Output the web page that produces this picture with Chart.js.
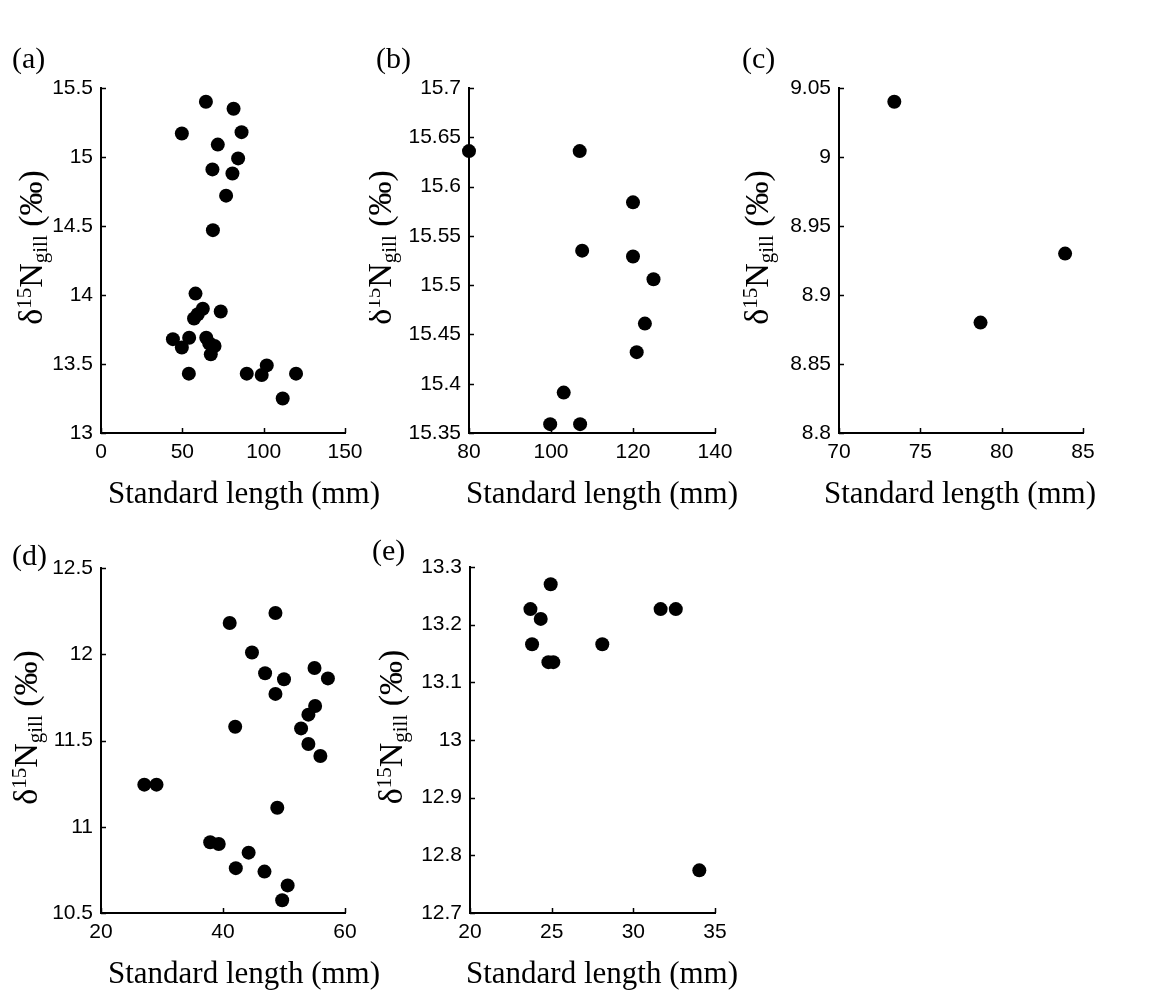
<!DOCTYPE html>
<html><head><meta charset="utf-8">
<script src="https://cdn.jsdelivr.net/npm/chart.js@4.4.0/dist/chart.umd.min.js"></script>
<style>
html,body{margin:0;padding:0;background:#fff;width:1158px;height:992px;overflow:hidden;position:relative}
canvas{position:absolute}
</style></head><body>
<canvas id="pa"></canvas><canvas id="pb"></canvas><canvas id="pc"></canvas><canvas id="pd"></canvas><canvas id="pe"></canvas>
<script>
// ---- data ----
const lengthA = [64.5,81.5,49.7,86.4,71.8,84.3,68.5,80.8,76.9,68.8,58.1,62.6,59.5,57.2,73.6,44.2,49.7,54.2,64.7,66.5,69.8,67.5,54.0,89.6,98.8,101.9,119.9,111.7];
const d15nA   = [15.40,15.35,15.17,15.18,15.09,14.99,14.91,14.88,14.72,14.47,14.01,13.90,13.86,13.83,13.88,13.68,13.62,13.69,13.69,13.65,13.63,13.57,13.43,13.43,13.42,13.49,13.43,13.25];
const lengthB = [80.0,107.0,120.0,107.6,120.0,125.0,122.9,120.9,103.1,99.8,107.1];
const d15nB   = [15.636,15.636,15.584,15.535,15.529,15.506,15.461,15.432,15.391,15.359,15.359];
const lengthC = [73.4,78.7,83.9];
const d15nC   = [9.040,8.880,8.930];
const lengthD = [27.1,29.1,41.1,48.6,44.75,46.9,48.6,50.0,55.0,57.2,55.1,54.0,52.8,54.0,55.96,42.0,48.9,37.9,39.3,42.1,44.2,46.8,50.6,49.7];
const d15nD   = [11.244,11.244,12.181,12.239,12.01,11.89,11.77,11.855,11.92,11.86,11.70,11.65,11.57,11.48,11.41,11.58,11.11,10.91,10.90,10.76,10.85,10.74,10.66,10.574];
const lengthE = [24.94,23.7,24.33,23.8,24.8,25.1,28.1,31.67,32.6,34.04];
const d15nE   = [13.270,13.227,13.210,13.166,13.135,13.135,13.166,13.227,13.227,12.774];

const xTicksA = [0,50,100,150];           const xLabelsA = ['0','50','100','150'];
const yTicksA = [13,13.5,14,14.5,15,15.5]; const yLabelsA = ['13','13.5','14','14.5','15','15.5'];
const xTicksB = [80,100,120,140];          const xLabelsB = ['80','100','120','140'];
const yTicksB = [15.35,15.4,15.45,15.5,15.55,15.6,15.65,15.7];
const yLabelsB = ['15.35','15.4','15.45','15.5','15.55','15.6','15.65','15.7'];
const xTicksC = [70,75,80,85];             const xLabelsC = ['70','75','80','85'];
const yTicksC = [8.8,8.85,8.9,8.95,9,9.05]; const yLabelsC = ['8.8','8.85','8.9','8.95','9','9.05'];
const xTicksD = [20,40,60];                const xLabelsD = ['20','40','60'];
const yTicksD = [10.5,11,11.5,12,12.5];    const yLabelsD = ['10.5','11','11.5','12','12.5'];
const xTicksE = [20,25,30,35];             const xLabelsE = ['20','25','30','35'];
const yTicksE = [12.7,12.8,12.9,13,13.1,13.2,13.3];
const yLabelsE = ['12.7','12.8','12.9','13','13.1','13.2','13.3'];

const panelLetters = ['(a)','(b)','(c)','(d)','(e)'];
const xAxisTitle = 'Standard length (mm)';

// ---- layout (page px) ----
const PADL = 100, PADT = 70, PADR = 60, XH = 90;
const panels = [
  {id:'pa', letter:panelLetters[0], L:101, T:88,  R:345,  B:433, xs:lengthA, ys:d15nA, xt:xTicksA, xl:xLabelsA, yt:yTicksA, yl:yLabelsA, titleX:42,  labX:12,  labY:60,  xtX:244},
  {id:'pb', letter:panelLetters[1], L:469, T:88,  R:715,  B:433, xs:lengthB, ys:d15nB, xt:xTicksB, xl:xLabelsB, yt:yTicksB, yl:yLabelsB, titleX:391, labX:376, labY:60,  xtX:602},
  {id:'pc', letter:panelLetters[2], L:839, T:88,  R:1083, B:433, xs:lengthC, ys:d15nC, xt:xTicksC, xl:xLabelsC, yt:yTicksC, yl:yLabelsC, titleX:768, labX:742, labY:60,  xtX:960},
  {id:'pd', letter:panelLetters[3], L:101, T:568, R:345,  B:913, xs:lengthD, ys:d15nD, xt:xTicksD, xl:xLabelsD, yt:yTicksD, yl:yLabelsD, titleX:37,  labX:12,  labY:557, xtX:244},
  {id:'pe', letter:panelLetters[4], L:470, T:567, R:715,  B:913, xs:lengthE, ys:d15nE, xt:xTicksE, xl:xLabelsE, yt:yTicksE, yl:yLabelsE, titleX:402, labX:372, labY:552, xtX:602}
];

const SANS = '"Liberation Sans", Arial, Helvetica, sans-serif';
const SERIF = '"Liberation Serif", "Times New Roman", Times, serif';

const decor = {
  id:'decor',
  afterDraw(chart, args, o){
    const ctx = chart.ctx, ca = chart.chartArea;
    const xs = chart.scales.x, ys = chart.scales.y;
    ctx.save();
    ctx.strokeStyle = '#000'; ctx.lineWidth = 1.5;
    xs.ticks.forEach(t => { const p = Math.round(xs.getPixelForValue(t.value)) + 0.5;
      ctx.beginPath(); ctx.moveTo(p, ca.bottom); ctx.lineTo(p, ca.bottom - 5); ctx.stroke(); });
    ys.ticks.forEach(t => { const p = Math.round(ys.getPixelForValue(t.value)) + 0.5;
      ctx.beginPath(); ctx.moveTo(ca.left, p); ctx.lineTo(ca.left + 5, p); ctx.stroke(); });
    // x-axis title
    ctx.fillStyle = '#000';
    ctx.font = '31px ' + SERIF; ctx.textAlign = 'center'; ctx.textBaseline = 'middle';
    ctx.fillText(o.xTitle, o.xtX, ca.bottom + 62);
    // y-axis title with super/subscript
    const main = '34px ' + SERIF, small = '21px ' + SERIF;
    const segs = [{t:'\u03B4', f:main, dy:0},{t:'15', f:small, dy:-11},{t:'N', f:main, dy:0},{t:'gill', f:small, dy:5},{t:' (\u2030)', f:main, dy:0}];
    let total = 0;
    segs.forEach(s => { ctx.font = s.f; s.w = ctx.measureText(s.t).width; total += s.w; });
    ctx.translate(o.titleX, (ca.top + ca.bottom)/2 - 13);
    ctx.rotate(-Math.PI/2);
    ctx.textBaseline = 'alphabetic'; ctx.textAlign = 'left';
    let x = -total/2;
    segs.forEach(s => { ctx.font = s.f; ctx.fillText(s.t, x, s.dy); x += s.w; });
    ctx.restore();
    // panel letter
    ctx.save();
    ctx.font = '30px ' + SERIF; ctx.fillStyle = '#000'; ctx.textBaseline = 'middle'; ctx.textAlign = 'left';
    ctx.fillText(o.letter, o.labX, o.labY);
    ctx.restore();
  }
};

panels.forEach(p => {
  const cv = document.getElementById(p.id);
  const w = (p.R - p.L) + PADL + PADR, h = (p.B - p.T) + PADT + XH;
  const left = p.L - PADL, top = p.T - PADT;
  cv.style.left = left + 'px'; cv.style.top = top + 'px';
  cv.style.width = w + 'px'; cv.style.height = h + 'px';
  cv.width = w; cv.height = h;
  new Chart(cv, {
    type: 'scatter',
    data: { datasets: [{ label: xAxisTitle, data: p.xs.map((v,i) => ({x:v, y:p.ys[i]})),
      pointRadius: 7, pointHoverRadius: 7, pointStyle: 'circle',
      backgroundColor: '#000', borderColor: '#000', borderWidth: 0, clip: false }] },
    options: {
      responsive: false, animation: false, devicePixelRatio: 1,
      layout: { padding: { left: 0, top: PADT, right: PADR, bottom: 0 } },
      plugins: { legend: {display:false}, tooltip: {enabled:false},
        decor: { letter: p.letter, xTitle: xAxisTitle, xtX: p.xtX - left, titleX: p.titleX - left, labX: p.labX - left, labY: p.labY - top } },
      scales: {
        x: { type:'linear', position:'bottom', min: p.xt[0], max: p.xt[p.xt.length-1],
          grid: {display:false, drawTicks:false}, border: {display:true, color:'#000', width:2},
          afterBuildTicks: s => { s.ticks = p.xt.map(v => ({value:v})); },
          afterFit: s => { s.height = XH; },
          ticks: { callback: (v,i) => p.xl[i], color:'#000', font:{family:SANS, size:21}, padding:7, autoSkip:false, maxRotation:0 } },
        y: { type:'linear', position:'left', min: p.yt[0], max: p.yt[p.yt.length-1],
          grid: {display:false, drawTicks:false}, border: {display:true, color:'#000', width:2},
          afterBuildTicks: s => { s.ticks = p.yt.map(v => ({value:v})); },
          afterFit: s => { s.width = PADL; },
          ticks: { callback: (v,i) => p.yl[i], color:'#000', font:{family:SANS, size:21}, padding:8, autoSkip:false } }
      }
    },
    plugins: [decor]
  });
});
</script>
</body></html>
